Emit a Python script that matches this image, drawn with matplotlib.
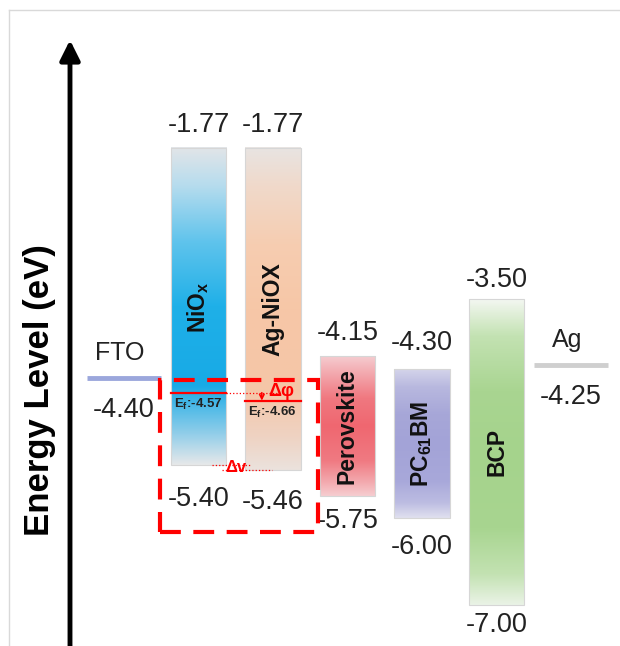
import numpy as np
import matplotlib
matplotlib.use("Agg")
import matplotlib.pyplot as plt
from matplotlib.colors import LinearSegmentedColormap
from matplotlib.patches import Rectangle

plt.rcParams['font.family'] = ['Liberation Sans', 'DejaVu Sans']
plt.rcParams['mathtext.fontset'] = 'custom'
plt.rcParams['mathtext.rm'] = 'Liberation Sans'
plt.rcParams['mathtext.bf'] = 'Liberation Sans:bold'
plt.rcParams['mathtext.it'] = 'Liberation Sans:italic'

# energy levels (eV)
bar_names = [r"NiO$_\mathbf{x}$", "Ag-NiOX", "Perovskite", r"PC$_\mathbf{61}$BM", "BCP"]
bar_top = [-1.77, -1.77, -4.15, -4.30, -3.50]
bar_bottom = [-5.40, -5.46, -5.75, -6.00, -7.00]
electrode_names = ["FTO", "Ag"]
electrode_levels = [-4.40, -4.25]
fermi_levels = [-4.57, -4.66]

bar_colors = [
    ['#e2e5e8', '#b6dcee', '#5ec3ec', '#1fb0e8', '#18aae6', '#8fcde9', '#e6e8ea'],
    ['#e8e4e2', '#f0d9ca', '#f6cdb1', '#f7c7a7', '#f5c6a7', '#efd3c3', '#ebe2dd'],
    ['#f5ccd0', '#f3a9af', '#f07880', '#ef6770', '#f07a82', '#f3a9ae', '#f6cdd0'],
    ['#d4d4ea', '#b8b8df', '#a7a7d8', '#a3a3d7', '#a8a8da', '#bdbde2', '#e0e0ef'],
    ['#f3f7f1', '#c3e2b2', '#a9d591', '#a5d38c', '#a8d590', '#c3e2b2', '#eaf3e6'],
]
electrode_colors = ['#9ba7dc', '#cfcfcf']

# label offsets in pixels (above top / below bottom)
top_off = [23, 23, 23, 26, 19]
bot_off = [34, 32, 25, 29, 20]

fig = plt.figure(figsize=(6.2, 6.46), dpi=100)
ax = fig.add_axes([0, 0, 1, 1])
ax.axis('off')

W = 0.74
grad = np.linspace(0, 1, 256).reshape(-1, 1)
px = 0.72  # points per pixel

for i, (name, top, bot, cols) in enumerate(zip(bar_names, bar_top, bar_bottom, bar_colors)):
    x = i + 1
    cmap = LinearSegmentedColormap.from_list('c%d' % i, list(zip([0, 0.12, 0.3, 0.5, 0.75, 0.9, 1], cols)))
    ax.imshow(grad, extent=[x - W / 2, x + W / 2, bot, top], aspect='auto', cmap=cmap,
              origin='upper', zorder=1)
    ax.add_patch(Rectangle((x - W / 2, bot), W, top - bot, fill=False, ec='#d6d6d6', lw=0.8, zorder=2))
    ax.text(x, (top + bot) / 2, name, rotation=90, ha='center', va='center',
            fontsize=16.5, fontweight='bold', color='#111111', zorder=5)
    ax.annotate("%.2f" % top, (x, top), xytext=(0, top_off[i] * px), textcoords='offset points',
                ha='center', va='center', fontsize=19.5, color='#222222')
    ax.annotate("%.2f" % bot, (x, bot), xytext=(0, -bot_off[i] * px), textcoords='offset points',
                ha='center', va='center', fontsize=19.5, color='#222222')

for x, name, lev, c in zip([0, 6], electrode_names, electrode_levels, electrode_colors):
    ax.plot([x - 0.49, x + 0.49], [lev, lev], color=c, lw=3.5, solid_capstyle='butt', zorder=2)
    ax.annotate(name, (x, lev), xytext=(-3, 25 * px), textcoords='offset points',
                ha='center', va='center', fontsize=18, color='#222222')
    ax.annotate("%.2f" % lev, (x, lev), xytext=(0, -32 * px), textcoords='offset points',
                ha='center', va='center', fontsize=19.5, color='#222222')

# Fermi levels and offsets
ef1, ef2 = fermi_levels
ax.plot([1 - W / 2, 1 + W / 2], [ef1, ef1], color='red', lw=1.6, zorder=3)
ax.plot([1 + W / 2, 2.12], [ef1, ef1], color='red', lw=0.9, ls=':', zorder=3)
ax.plot([2 - W / 2, 2 + W / 2], [ef2, ef2], color='red', lw=1.6, zorder=3)
ax.annotate(r"E$_\mathbf{f}$:%.2f" % ef1, (1 - W / 2 + 0.04, ef1), xytext=(0, -3), textcoords='offset points',
            ha='left', va='top', fontsize=9.5, fontweight='bold', color='#222222', zorder=5)
ax.annotate(r"E$_\mathbf{f}$:%.2f" % ef2, (2 - W / 2 + 0.04, ef2), xytext=(0, -3), textcoords='offset points',
            ha='left', va='top', fontsize=9.5, fontweight='bold', color='#222222', zorder=5)
ax.annotate('', xy=(1.85, ef2), xytext=(1.85, ef1),
            arrowprops=dict(arrowstyle='->', color='red', lw=1.2, shrinkA=0, shrinkB=0,
                            mutation_scale=8), zorder=4)
ax.annotate("Δφ", (1.93, (ef1 + ef2) / 2), xytext=(0, 4), textcoords='offset points',
            ha='left', va='center', fontsize=13, fontweight='bold', color='red', zorder=5)

ax.plot([1.18, 1.69], [bar_bottom[0]] * 2, color='red', lw=0.9, ls=':', zorder=3)
ax.plot([1.31, 1.99], [bar_bottom[1]] * 2, color='red', lw=0.9, ls=':', zorder=3)
ax.annotate("Δv", (1.50, (bar_bottom[0] + bar_bottom[1]) / 2), xytext=(0, 0), textcoords='offset points',
            ha='center', va='center', fontsize=12, fontweight='bold', color='red', zorder=5)

ax.add_patch(Rectangle((0.483, -6.164), 2.121, 1.74, fill=False, ec='red', lw=3,
                       ls=(0, (5, 3)), zorder=6))

ax.set_xlim(-1.6644, 6.6577)
ax.set_ylim(-7.469, -0.0744)

# energy axis arrow
ax.annotate('', xy=(0.1129, 0.938), xytext=(0.1129, -0.01), xycoords='axes fraction',
            arrowprops=dict(arrowstyle='-|>', lw=3.5, color='black', shrinkA=0, shrinkB=0,
                            mutation_scale=30))
ax.text(0.0645, 0.396, "Energy Level (eV)", transform=ax.transAxes, rotation=90,
        ha='center', va='center', fontsize=25, fontweight='bold')

# thin frame
fig.add_artist(plt.Line2D([0.0145, 0.0145], [0, 0.9845], color='#d9d9d9', lw=1))
fig.add_artist(plt.Line2D([0.0145, 1], [0.9845, 0.9845], color='#d9d9d9', lw=1))

fig.savefig("out.png", dpi=100)
